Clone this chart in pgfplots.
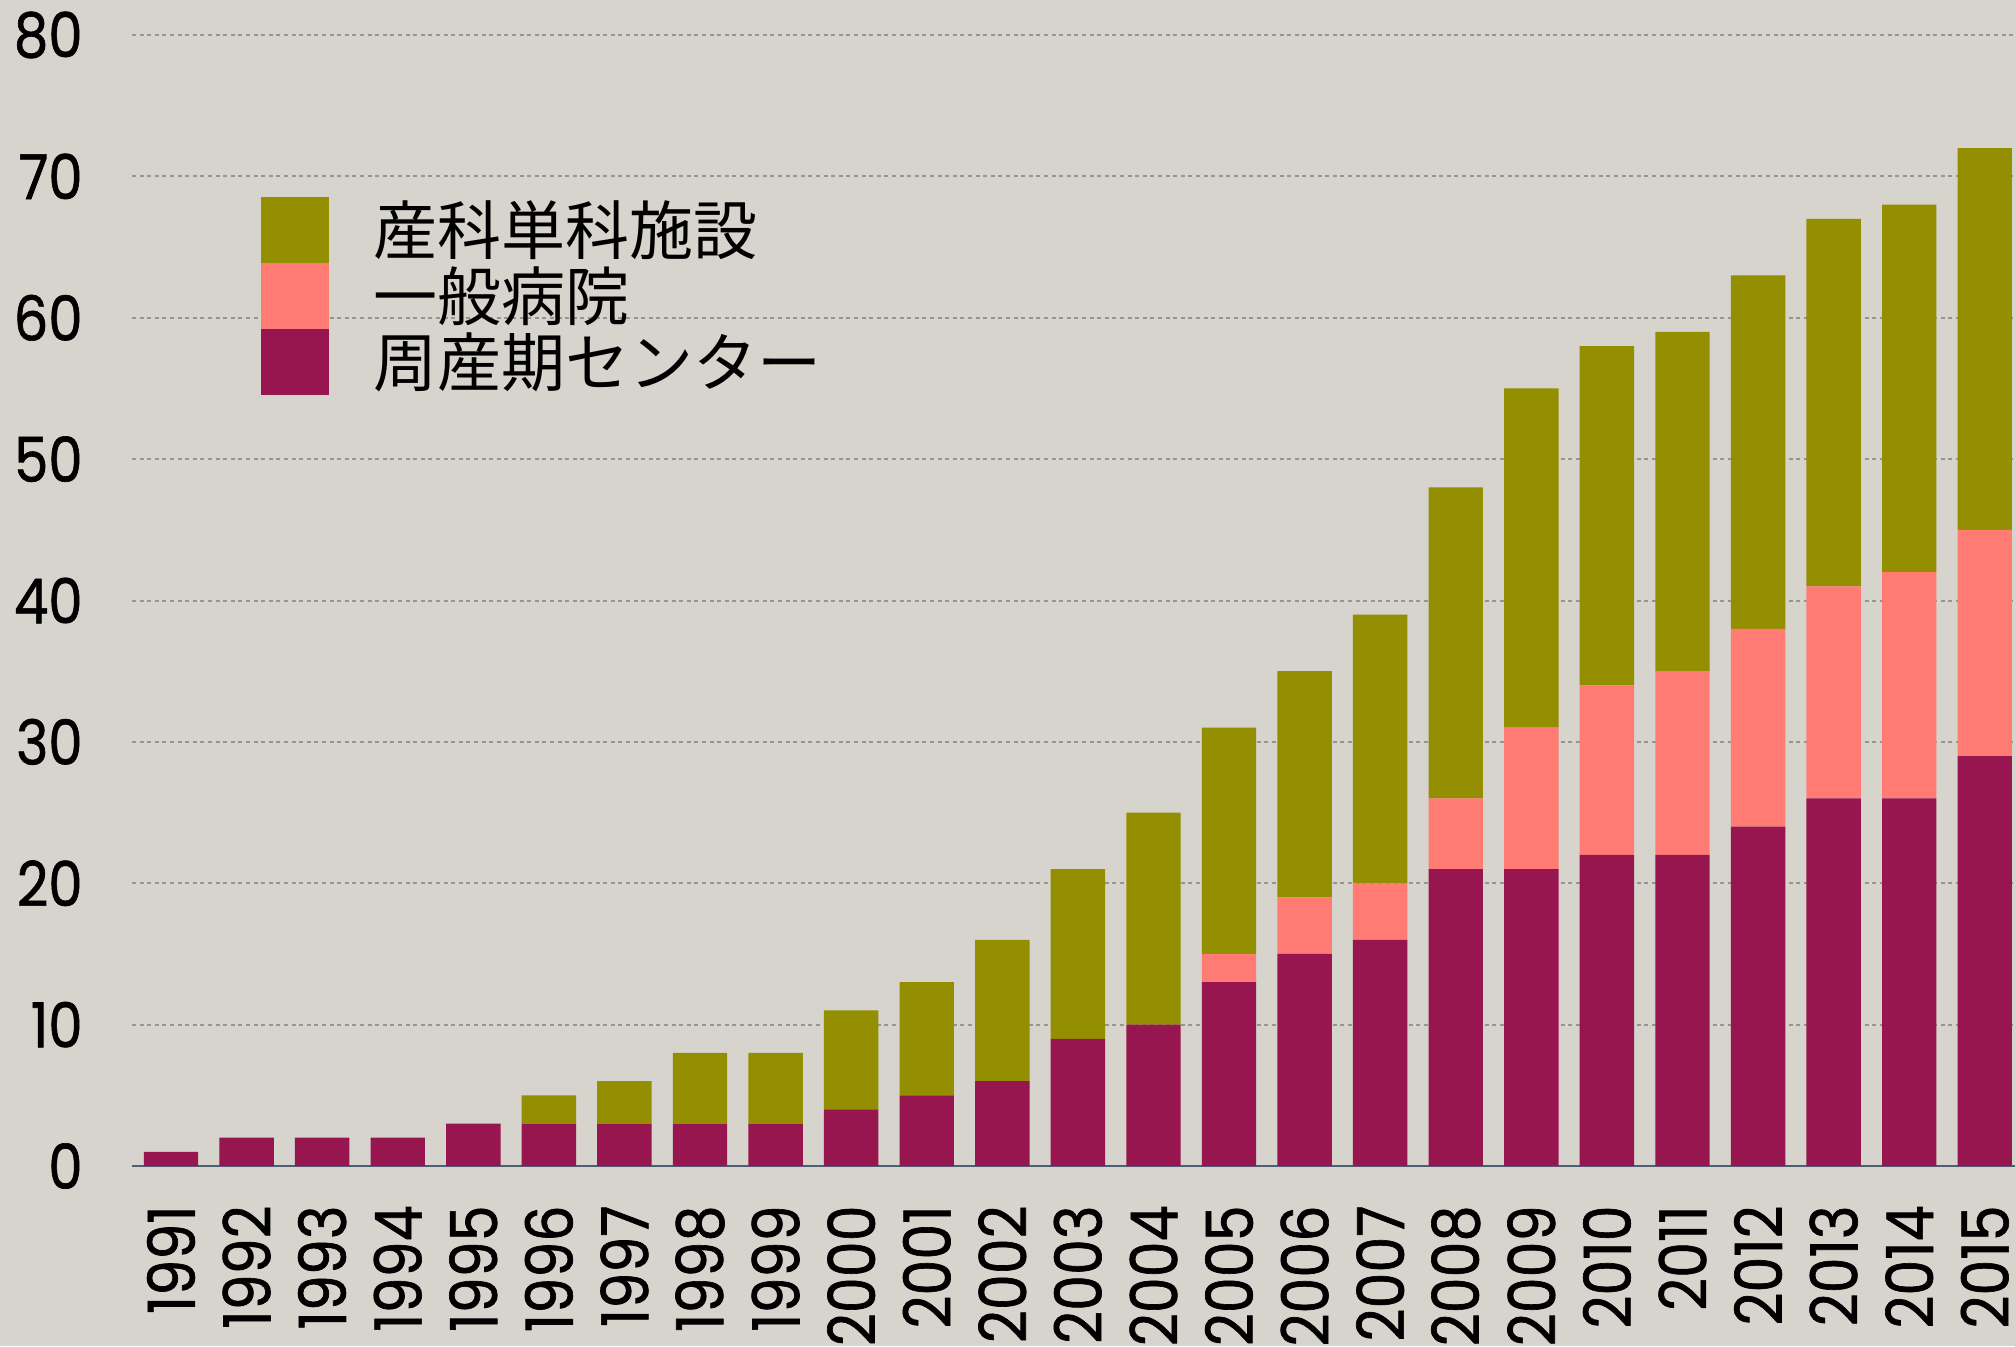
\documentclass[border=0pt]{standalone}
\usepackage{pgfplots}
\pgfplotsset{compat=1.18}
\usepackage{fontspec}
\setmainfont{Poppins}
\newfontfamily\tickfont[FakeStretch=0.88, FakeBold=1]{Poppins}
\newfontfamily\jp{Noto Sans CJK JP}
\definecolor{bg}{HTML}{D6D4CD}
\definecolor{cOlive}{HTML}{948F00}
\definecolor{cPink}{HTML}{FF7B74}
\definecolor{cMag}{HTML}{981650}
\definecolor{cAxis}{HTML}{4F5E76}
\definecolor{cGrid}{HTML}{96948F}
\begin{document}
\begin{tikzpicture}[x=0.5pt,y=0.5pt]
\fill[bg] (0,0) rectangle (2015,1346);
\begin{axis}[
  at={(66pt,90pt)}, anchor=south west,
  scale only axis, width=941.5pt, height=565.5pt,
  xmin=-0.516, xmax=24.4, ymin=0, ymax=80,
  enlargelimits=false, clip=false,
  ybar stacked, bar width=0.72,
  axis lines*=left,
  axis line style={-},
  y axis line style={draw=none},
  x axis line style={draw=cAxis, line width=1pt},
  major tick length=0pt,
  tick style={draw=none},
  ytick={0,10,...,80},
  ymajorgrids,
  grid style={cGrid, line width=1pt, dash pattern=on 2pt off 1.8pt},
  xtick={0,1,...,24},
  xticklabels={1991,1992,1993,1994,1995,1996,1997,1998,1999,2000,2001,2002,2003,2004,2005,2006,2007,2008,2009,2010,2011,2012,2013,2014,2015},
  /pgf/number format/assume math mode=true,
  yticklabel style={font=\tickfont\fontsize{31}{31}\selectfont, inner sep=0pt, anchor=east},
  yticklabel shift=24.5pt,
  xticklabel style={font=\tickfont\fontsize{32.5}{32.5}\selectfont, inner sep=0pt, rotate=90, anchor=east},
  xticklabel shift=19.5pt,
  reverse legend,
  legend cell align=left,
  legend image code/.code={\fill[#1] (0pt,-16.5pt) rectangle (34pt,16.5pt);},
  legend style={at={(axis cs:1.19,68.53)}, anchor=north west, draw=none, fill=none,
    inner sep=0pt, outer sep=0pt, row sep=0pt, column sep=22.5pt,
    nodes={inner sep=0pt, outer sep=0pt, text height=28.6pt, text depth=4.4pt,
      font=\jp\fontsize{32}{32}\selectfont}},
]
\addplot[fill=cMag, draw=none] coordinates {
(0,1) (1,2) (2,2) (3,2) (4,3) (5,3) (6,3) (7,3) (8,3) (9,4) (10,5) (11,6) (12,9)
(13,10) (14,13) (15,15) (16,16) (17,21) (18,21) (19,22) (20,22) (21,24) (22,26) (23,26) (24,29)};
\addplot[fill=cPink, draw=none] coordinates {
(0,0) (1,0) (2,0) (3,0) (4,0) (5,0) (6,0) (7,0) (8,0) (9,0) (10,0) (11,0) (12,0)
(13,0) (14,2) (15,4) (16,4) (17,5) (18,10) (19,12) (20,13) (21,14) (22,15) (23,16) (24,16)};
\addplot[fill=cOlive, draw=none] coordinates {
(0,0) (1,0) (2,0) (3,0) (4,0) (5,2) (6,3) (7,5) (8,5) (9,7) (10,8) (11,10) (12,12)
(13,15) (14,16) (15,16) (16,19) (17,22) (18,24) (19,24) (20,24) (21,25) (22,26) (23,26) (24,27)};
\legend{周産期センター,一般病院,産科単科施設}
\end{axis}
\pgfresetboundingbox
\useasboundingbox (0,0) rectangle (2015,1346);
\end{tikzpicture}
\end{document}
